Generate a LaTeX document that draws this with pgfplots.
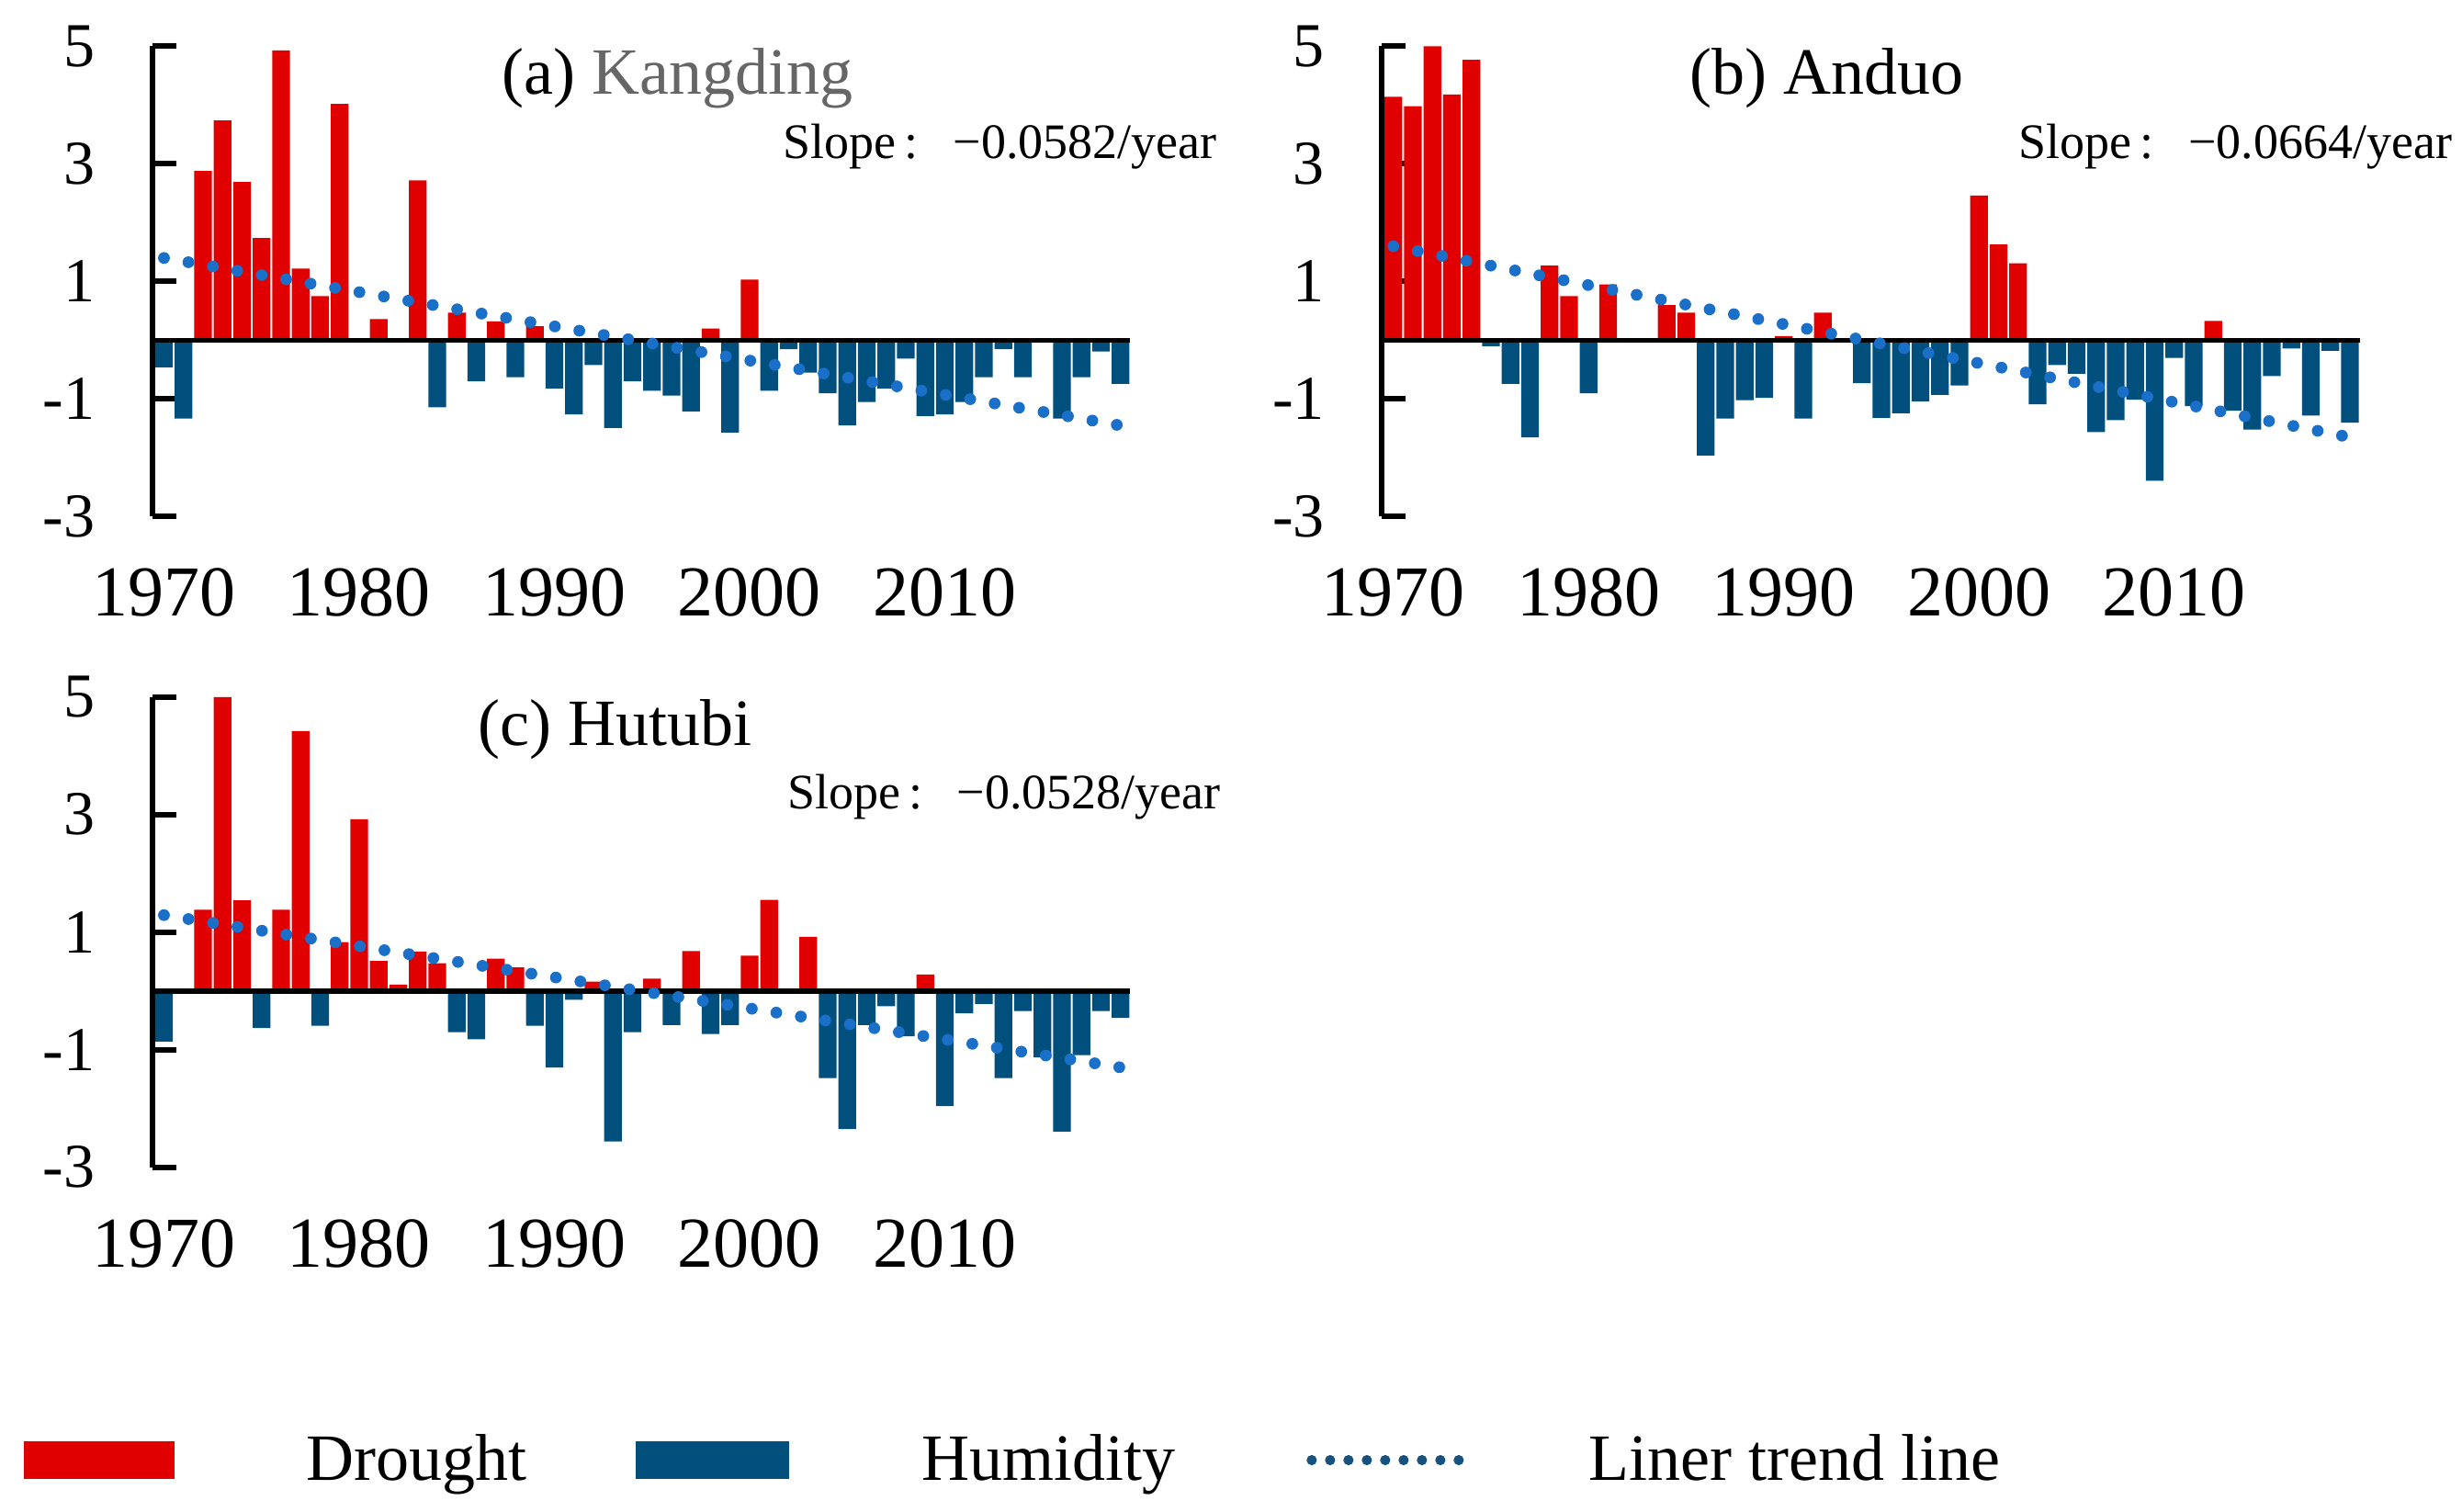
\documentclass[border=0pt]{standalone}
\usepackage{fontspec}
\setmainfont{Liberation Serif}
\usepackage{pgfplots}
\pgfplotsset{compat=1.18}

\definecolor{drought}{HTML}{E00000}
\definecolor{humid}{HTML}{004F7D}
\definecolor{trend}{HTML}{1A6FC8}
\definecolor{trendleg}{HTML}{15527F}
\definecolor{kgray}{HTML}{666666}

\pgfplotsset{
  panel/.style={
    x=5.3125pt, y=16pt,
    xmin=1969.4, xmax=2019.5, ymin=-3, ymax=5,
    scale only axis, clip=false,
    anchor=south west,
    separate axis lines,
    axis y line=left, axis x line=bottom,
    axis line style={-},
    y axis line style={-, line width=1.5pt},
    x axis line style={draw=none},
    xtick={1970,1980,...,2010},
    ytick={-3,-1,1,3,5},
    xtick style={draw=none},
    ytick style={line width=1.5pt, black},
    tick align=inside,
    major tick length=6.5pt,
    /pgf/number format/assume math mode=true,
    /pgf/number format/1000 sep={},
    xticklabel style={font=\fontsize{19.5}{20}\selectfont, yshift=-10.6pt},
    yticklabel style={font=\fontsize{17}{18}\selectfont, xshift=-12pt},
  },
  bars/.style={ybar, bar width=0.9, bar shift=0pt, draw=none, forget plot},
  trendline/.style={trend, line width=3.2pt, line cap=round, dash pattern=on 0pt off 6.75pt, forget plot},
  zeroline/.style={black, line width=1.4pt, forget plot},
}

\begin{document}
\begin{tikzpicture}

% (a) Kangding
\begin{axis}[panel, at={(0pt,0pt)}]
\addplot[bars, fill=drought] coordinates {
  (1972,2.88) (1973,3.74) (1974,2.69) (1975,1.74) (1976,4.93) (1977,1.22)
  (1978,0.75) (1979,4.02) (1981,0.36) (1983,2.72) (1985,0.47) (1987,0.32)
  (1989,0.24) (1998,0.20) (2000,1.03)
};
\addplot[bars, fill=humid] coordinates {
  (1970,-0.46) (1971,-1.33) (1984,-1.14) (1986,-0.70) (1988,-0.63) (1990,-0.82)
  (1991,-1.26) (1992,-0.42) (1993,-1.49) (1994,-0.70) (1995,-0.86) (1996,-0.94)
  (1997,-1.21) (1999,-1.57) (2001,-0.86) (2002,-0.15) (2003,-0.55) (2004,-0.90)
  (2005,-1.45) (2006,-1.05) (2007,-0.82) (2008,-0.31) (2009,-1.29) (2010,-1.26)
  (2011,-1.05) (2012,-0.63) (2013,-0.15) (2014,-0.63) (2016,-1.33) (2017,-0.63)
  (2018,-0.19) (2019,-0.74)
};
\addplot[zeroline] coordinates {(1969.4,0) (2019.5,0)};
\addplot[trendline] coordinates {(1970,1.40) (2019,-1.45)};
\node[font=\fontsize{18}{20}\selectfont] at (axis cs:1996.3,4.46) {(a) \textcolor{kgray}{Kangding}};
\node[anchor=east, font=\fontsize{13.5}{15}\selectfont] at (axis cs:2024.6,3.30) {Slope\,:\hspace{0.7em}−0.0582/year};
\coordinate (TL) at (axis cs:1961.6,5.7875);
\coordinate (BR) at (axis cs:2087.72,-19.931);
\end{axis}

% (b) Anduo
\begin{axis}[panel, at={(334.575pt,0pt)}]
\addplot[bars, fill=drought] coordinates {
  (1970,4.14) (1971,3.98) (1972,5.00) (1973,4.18) (1974,4.77) (1978,1.27)
  (1979,0.75) (1981,0.95) (1984,0.60) (1985,0.47) (1990,0.07) (1992,0.47)
  (2000,2.46) (2001,1.63) (2002,1.31) (2012,0.33)
};
\addplot[bars, fill=humid] coordinates {
  (1975,-0.10) (1976,-0.74) (1977,-1.65) (1980,-0.90) (1986,-1.96) (1987,-1.33)
  (1988,-1.02) (1989,-0.98) (1991,-1.33) (1994,-0.73) (1995,-1.32) (1996,-1.24)
  (1997,-1.04) (1998,-0.93) (1999,-0.77) (2003,-1.09) (2004,-0.42) (2005,-0.57)
  (2006,-1.56) (2007,-1.36) (2008,-1.01) (2009,-2.39) (2010,-0.30) (2011,-1.12)
  (2013,-1.20) (2014,-1.52) (2015,-0.61) (2016,-0.14) (2017,-1.28) (2018,-0.18)
  (2019,-1.40)
};
\addplot[zeroline] coordinates {(1969.4,0) (2019.5,0)};
\addplot[trendline] coordinates {(1970,1.60) (2019,-1.65)};
\node[font=\fontsize{18}{20}\selectfont] at (axis cs:1992.2,4.46) {(b) Anduo};
\node[anchor=east, font=\fontsize{13.5}{15}\selectfont] at (axis cs:2024.9,3.30) {Slope\,:\hspace{0.7em}−0.0664/year};
\end{axis}

% (c) Hutubi
\begin{axis}[panel, at={(0pt,-177.1pt)},
  legend columns=3,
  legend cell align=left,
  legend style={draw=none, fill=none, inner sep=0pt,
    at={(axis description cs:-0.1317,-0.6225)}, anchor=west,
    font=\fontsize{18}{20}\selectfont,
    nodes={inner sep=0pt},
    /tikz/column 1/.style={column sep=36pt},
    /tikz/column 2/.style={column sep=29.5pt},
    /tikz/column 3/.style={column sep=36pt},
    /tikz/column 4/.style={column sep=35.7pt},
    /tikz/column 5/.style={column sep=34pt}},
]
\addplot[bars, fill=drought] coordinates {
  (1972,1.38) (1973,5.00) (1974,1.54) (1976,1.38) (1977,4.42) (1979,0.83)
  (1980,2.92) (1981,0.51) (1982,0.11) (1983,0.67) (1984,0.47) (1987,0.55)
  (1988,0.40) (1992,0.16) (1995,0.21) (1997,0.68) (2000,0.60) (2001,1.55)
  (2003,0.92) (2009,0.28)
};
\addplot[bars, fill=humid] coordinates {
  (1970,-0.86) (1975,-0.63) (1978,-0.59) (1985,-0.70) (1986,-0.82) (1989,-0.59)
  (1990,-1.30) (1991,-0.15) (1993,-2.56) (1994,-0.70) (1996,-0.58) (1998,-0.73)
  (1999,-0.58) (2004,-1.48) (2005,-2.35) (2006,-0.58) (2007,-0.26) (2008,-0.77)
  (2010,-1.96) (2011,-0.38) (2012,-0.22) (2013,-1.48) (2014,-0.34) (2015,-1.13)
  (2016,-2.39) (2017,-1.09) (2018,-0.34) (2019,-0.46)
};
\addplot[zeroline] coordinates {(1969.4,0) (2019.5,0)};
\addplot[trendline] coordinates {(1970,1.29) (2019,-1.30)};
\node[font=\fontsize{18}{20}\selectfont] at (axis cs:1993.1,4.44) {(c) Hutubi};
\node[anchor=east, font=\fontsize{13.5}{15}\selectfont] at (axis cs:2024.8,3.30) {Slope\,:\hspace{0.7em}−0.0528/year};

\addlegendimage{legend image code/.code={\fill[drought] (0pt,-4.9pt) rectangle (40.5pt,4.9pt);}}
\addlegendentry{Drought}
\addlegendimage{legend image code/.code={\fill[humid] (0pt,-4.9pt) rectangle (41.5pt,4.9pt);}}
\addlegendentry{Humidity}
\addlegendimage{legend image code/.code={\draw[trendleg, line width=2.8pt, line cap=round, dash pattern=on 0pt off 5pt] (1.5pt,0pt) -- (41.6pt,0pt);}}
\addlegendentry{Liner trend line}
\end{axis}

\pgfresetboundingbox
\path[use as bounding box] (TL) rectangle (BR);
\end{tikzpicture}
\end{document}
